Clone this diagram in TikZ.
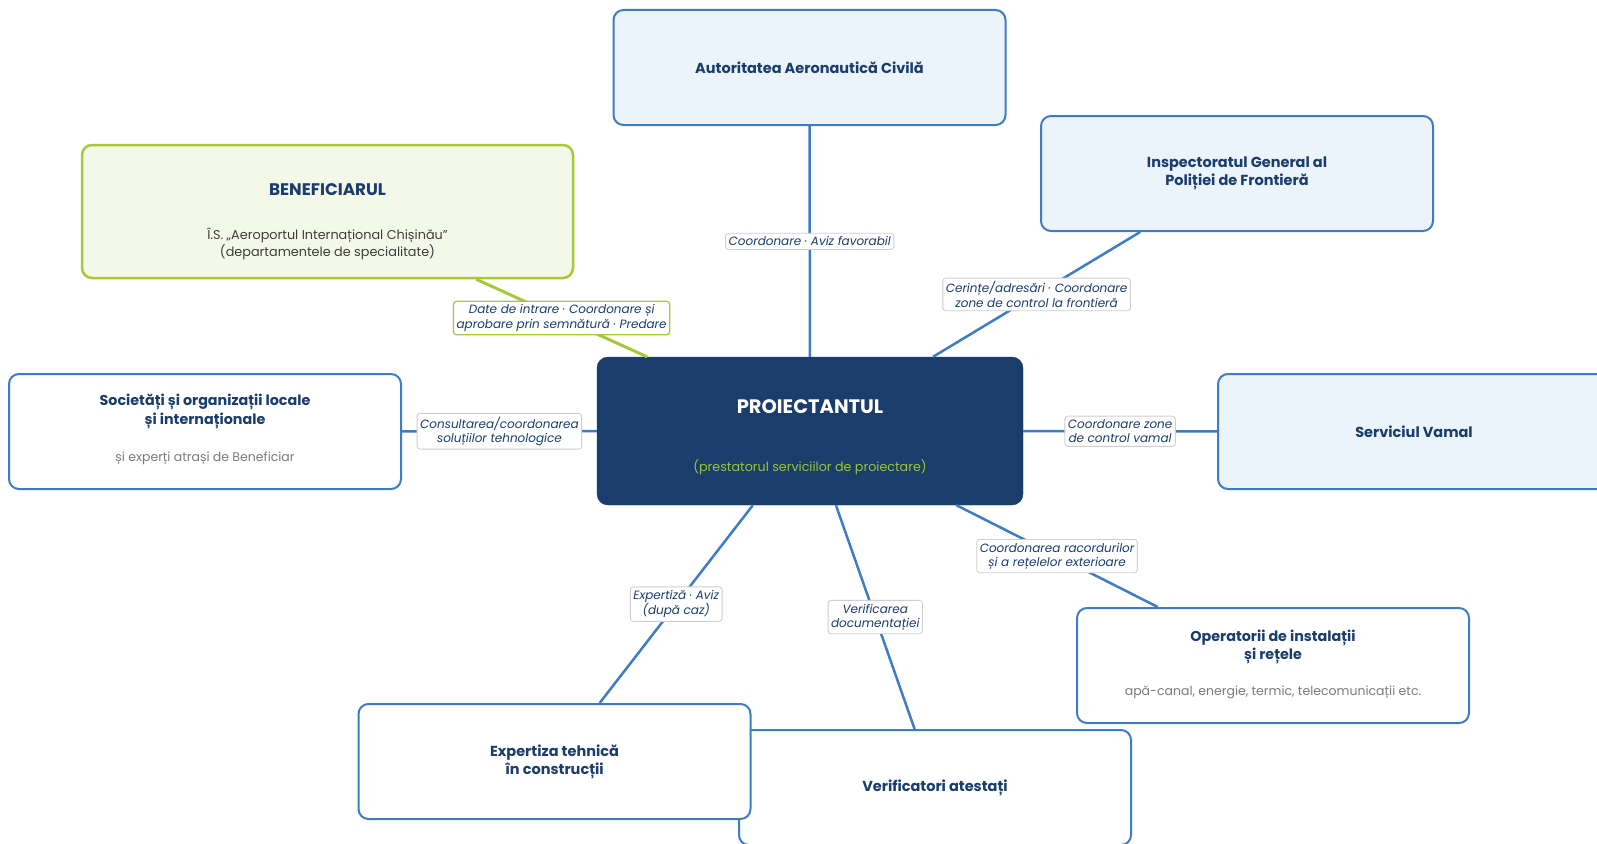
\documentclass[tikz,border=0pt]{standalone}
\usepackage{fontspec}
\setmainfont{Poppins}
\definecolor{navy}{HTML}{1A3D6B}
\definecolor{lineblue}{HTML}{3E7CC4}
\definecolor{lightfill}{HTML}{EBF3FB}
\definecolor{grn}{HTML}{A6C83C}
\definecolor{grnfill}{HTML}{F4F8E8}
\definecolor{grntext}{HTML}{9CC43A}
\definecolor{gtext}{HTML}{7A7A7A}
\definecolor{dtext}{HTML}{3C3C3C}
\definecolor{lblgray}{HTML}{CFCFCF}
\tikzset{
  box/.style={draw=lineblue, line width=2pt, rounded corners=10pt, fill=lightfill,
    minimum width=392pt, minimum height=115pt, inner sep=0pt, align=center,
    text=navy, font=\fontsize{14.5}{18}\selectfont\bfseries},
  wbox/.style={box, fill=white},
  gbox/.style={box, draw=grn, line width=2.5pt, fill=grnfill, minimum width=491pt, minimum height=133pt},
  pbox/.style={draw=navy, fill=navy, rounded corners=11pt, minimum width=426pt, minimum height=148pt, inner sep=0pt},
  ttl/.style={align=center, text=navy, font=\fontsize{14.3}{18.3}\selectfont\bfseries, inner sep=0pt},
  sub/.style={align=center, text=gtext, font=\fontsize{12.5}{15}\selectfont, inner sep=0pt},
  conn/.style={draw=lineblue, line width=2.5pt},
  gconn/.style={draw=grn, line width=3pt},
  lbl/.style={fill=white, draw=lblgray, line width=0.9pt, rounded corners=3pt,
    font=\fontsize{12}{14.2}\selectfont\itshape, text=navy, align=center,
    inner xsep=3pt, inner ysep=3.5pt},
  glbl/.style={lbl, draw=grn, line width=1.3pt}
}
\begin{document}
\begin{tikzpicture}[x=1pt,y=-1pt]
\useasboundingbox (0,0) rectangle (1597,843);
\clip (0,0) rectangle (1597,843);
\fill[white] (0,0) rectangle (1597,843);

% boxes
\node[box] (aac) at (809.5,67.5) {Autoritatea Aeronautică Civilă};
\node[box] (igpf) at (1237,173.5) {Inspectoratul General al\\Poliției de Frontieră};
\node[gbox] (ben) at (327.5,211.5) {};
\node[wbox] (soc) at (205,431.5) {};
\node[box] (sv) at (1414,431.5) {Serviciul Vamal};
\node[pbox] (pro) at (810,431) {};
\node[wbox] (op) at (1273,665.5) {};
\node[wbox] (ver) at (935,787.5) {Verificatori atestați};
\node[wbox] (exp) at (554.5,761.5) {Expertiza tehnică\\în construcții};

% box texts
\node[ttl, font=\fontsize{16.8}{20}\selectfont\bfseries] (benT) at (327.5,190) {BENEFICIARUL};
\node[sub, text=dtext, font=\fontsize{12.8}{17}\selectfont] (benS) at (327.5,244) {Î.S. „Aeroportul Internațional Chișinău”\\(departamentele de specialitate)};
\node[ttl, text=white, font=\fontsize{19.5}{22}\selectfont\bfseries] (proT) at (810,407) {PROIECTANTUL};
\node[sub, text=grntext, font=\fontsize{12.7}{15}\selectfont] (proS) at (810,467) {(prestatorul serviciilor de proiectare)};
\node[ttl] (socT) at (205,411.5) {Societăți și organizații locale\\și internaționale};
\node[sub] (socS) at (205,458) {și experți atrași de Beneficiar};
\node[ttl] (opT) at (1273,647) {Operatorii de instalații\\și rețele};
\node[sub] (opS) at (1273,692) {apă-canal, energie, termic, telecomunicații etc.};

% connectors
\path[conn] (pro) -- node[lbl] (l1) {Coordonare · Aviz favorabil} (aac);
\path[gconn] (pro) -- node[glbl] (l2) {Date de intrare · Coordonare și\\aprobare prin semnătură · Predare} (ben);
\path[conn] (pro) -- node[lbl] (l3) {Cerințe/adresări · Coordonare\\zone de control la frontieră} (igpf);
\path[conn] (pro) -- node[lbl] (l4) {Consultarea/coordonarea\\soluțiilor tehnologice} (soc);
\path[conn] (pro) -- node[lbl] (l5) {Coordonare zone\\de control vamal} (sv);
\path[conn] (pro) -- node[lbl] (l6) {Coordonarea racordurilor\\și a rețelelor exterioare} (op);
\path[conn] (pro) -- node[lbl] (l7) {Verificarea\\documentației} (ver);
\path[conn] (pro) -- node[lbl] (l8) {Expertiză · Aviz\\(după caz)} (exp);
\end{tikzpicture}
\end{document}
